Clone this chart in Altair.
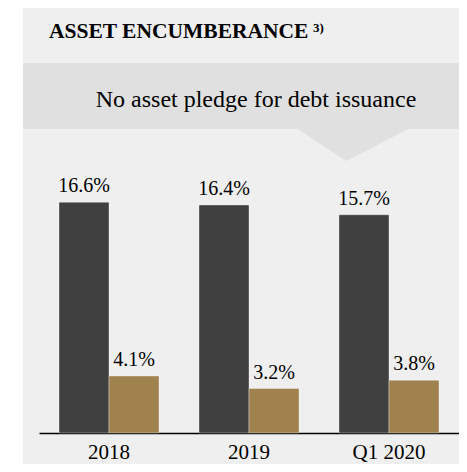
import altair as alt
import pandas as pd

categories = ["2018", "2019", "Q1 2020"]
series = ["A", "B"]
values_a = [16.6, 16.4, 15.7]
values_b = [4.1, 3.2, 3.8]
title_text = "ASSET ENCUMBERANCE"
title_note = "3)"
banner_text = "No asset pledge for debt issuance"

rows = []
for c, a, b in zip(categories, values_a, values_b):
    rows.append({"category": c, "series": "A", "value": a})
    rows.append({"category": c, "series": "B", "value": b})
df = pd.DataFrame(rows)
one = pd.DataFrame({"k": [0]})

W, H = 436, 456
BASE = 425  # baseline (view px)
PXPER = 13.9
DARK = "#404040"
TAN = "#a0824f"
PANEL = "#efefef"
BANNER = "#e0e0e0"
FONT = "Liberation Serif"

x_enc = alt.X(
    "category:N", sort=categories,
    scale=alt.Scale(domain=categories, range=[16, 436], paddingInner=0.2857, paddingOuter=0.1429),
    axis=alt.Axis(title=None, labelAngle=0, ticks=False, domainColor="black", domainWidth=1.5,
                  labelFont=FONT, labelFontSize=21, labelColor="black", labelPadding=8,
                  offset=BASE - H, grid=False),
)
xo = alt.XOffset("series:N", sort=series, scale=alt.Scale(domain=series, paddingInner=0, paddingOuter=0))
y_enc = alt.Y("value:Q", scale=alt.Scale(domain=[0, BASE / PXPER], range=[BASE, 0], nice=False), axis=None)

banner = alt.Chart(one).mark_rect(color=BANNER).encode(
    x=alt.value(0), x2=alt.value(W), y=alt.value(55), y2=alt.value(121)
)
notch = alt.Chart(one).mark_point(
    shape="M-1,-0.03L1,-0.03L-0.128,0.547Z", size=13689, filled=True, color=BANNER, opacity=1, strokeWidth=0
).encode(x=alt.value(330.5), y=alt.value(121))

title = alt.Chart(one).mark_text(
    text=title_text, align="left", baseline="alphabetic", font=FONT, fontSize=21.5, fontWeight="bold", color="black"
).encode(x=alt.value(26), y=alt.value(30))
note = alt.Chart(one).mark_text(
    text=title_note, align="left", baseline="alphabetic", font=FONT, fontSize=13, fontWeight="bold", color="black"
).encode(x=alt.value(290), y=alt.value(23.5))
btext = alt.Chart(one).mark_text(
    text=banner_text, align="center", baseline="alphabetic", font=FONT, fontSize=24, color="black"
).encode(x=alt.value(233), y=alt.value(99))

bars = alt.Chart(df).mark_bar(stroke="white", strokeOpacity=0.35, strokeWidth=1).encode(
    x=x_enc, xOffset=xo, y=y_enc,
    color=alt.Color("series:N", scale=alt.Scale(domain=series, range=[DARK, TAN]), legend=None),
)
labels = alt.Chart(df).transform_calculate(
    label="format(datum.value, '.1f') + '%'"
).mark_text(baseline="alphabetic", dy=-10, font=FONT, fontSize=20, color="black").encode(
    x=x_enc, xOffset=xo, y=y_enc, text="label:N"
)

chart = alt.layer(banner, notch, title, note, btext, bars, labels).properties(
    width=W, height=H,
    autosize=alt.AutoSizeParams(type="none"),
    padding={"left": 15, "top": 0, "right": 0, "bottom": 0},
    background="white",
).configure_view(fill=PANEL, stroke=None)

chart.save("out.html", embed_options={"renderer": "svg", "actions": False})
